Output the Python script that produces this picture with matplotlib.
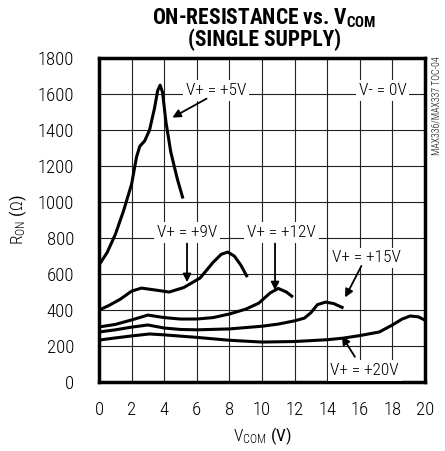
import matplotlib
matplotlib.use("Agg")
import matplotlib.pyplot as plt

# data (V_COM in volts, R_ON in ohms)
v5_x = [0, 0.5, 1.0, 1.5, 2.0, 2.3, 2.5, 2.8, 3.1, 3.4, 3.6, 3.75, 3.9, 4.1, 4.4, 4.8, 5.15]
v5_y = [650, 720, 820, 950, 1100, 1250, 1310, 1340, 1400, 1520, 1620, 1650, 1610, 1450, 1280, 1130, 1020]

v9_x = [0, 0.6, 1.3, 2.0, 2.6, 3.4, 4.3, 5.2, 6.2, 7.0, 7.5, 7.9, 8.3, 8.7, 9.1]
v9_y = [400, 425, 460, 505, 522, 512, 500, 525, 578, 665, 710, 722, 700, 650, 583]

v12_x = [0, 1.0, 2.0, 3.0, 4.0, 5.0, 6.0, 7.0, 8.0, 9.0, 9.8, 10.5, 11.0, 11.5, 11.9]
v12_y = [306, 320, 345, 372, 358, 350, 350, 358, 378, 405, 438, 495, 520, 500, 472]

v15_x = [0, 1.0, 2.0, 3.0, 4.0, 5.0, 6.0, 8.0, 10.0, 11.0, 12.0, 12.6, 13.0, 13.4, 13.9, 14.4, 15.0]
v15_y = [278, 290, 305, 317, 300, 292, 290, 295, 310, 322, 340, 355, 385, 430, 444, 436, 411]

v20_x = [0, 1.0, 2.0, 3.1, 4.0, 6.0, 8.0, 10.0, 12.0, 14.0, 15.0, 16.0, 17.2, 18.0, 18.6, 19.1, 19.6, 20.0]
v20_y = [233, 245, 256, 267, 262, 248, 232, 222, 225, 235, 244, 258, 278, 317, 350, 367, 362, 344]

x_ticks = [0, 2, 4, 6, 8, 10, 12, 14, 16, 18, 20]
y_ticks = [0, 200, 400, 600, 800, 1000, 1200, 1400, 1600, 1800]

FONT = "Roboto Condensed"
plt.rcParams["font.family"] = [FONT, "DejaVu Sans"]
plt.rcParams["font.weight"] = "light"
plt.rcParams["mathtext.fontset"] = "custom"
plt.rcParams["mathtext.rm"] = FONT + ":light"
plt.rcParams["mathtext.bf"] = FONT + ":bold"

fig = plt.figure(figsize=(4.45, 4.51), dpi=100)
ax = fig.add_axes([0.2225, 0.153, 0.7325, 0.718])

for xs, ys in [(v5_x, v5_y), (v9_x, v9_y), (v12_x, v12_y), (v15_x, v15_y), (v20_x, v20_y)]:
    ax.plot(xs, ys, color="black", lw=2.2, solid_capstyle="butt", zorder=3)

ax.set_xlim(0, 20)
ax.set_ylim(0, 1800)
ax.set_xticks(x_ticks)
ax.set_yticks(y_ticks)
ax.grid(True, color="#222222", lw=0.8)
ax.tick_params(length=0, labelsize=13.5)
ax.tick_params(axis="y", pad=18)
ax.tick_params(axis="x", pad=14)
for s in ax.spines.values():
    s.set_linewidth(2.5)

ax.set_xlabel(r"$\mathrm{V_{COM}}$ (V)", fontsize=12.5, labelpad=4)
ax.set_ylabel(r"$\mathrm{R_{ON}}$ ($\Omega$)", fontsize=12.5, labelpad=6)

fig.text(0.594, 0.96, r"ON-RESISTANCE vs. $\mathbf{V_{COM}}$", ha="center", va="center",
         fontsize=15.5, fontweight="bold")
fig.text(0.594, 0.911, "(SINGLE SUPPLY)", ha="center", va="center",
         fontsize=15.5, fontweight="bold")
fig.text(0.982, 0.875, "MAX336/MAX337 TOC-04", rotation=90, ha="center", va="top", fontsize=7)

box = dict(facecolor="white", edgecolor="none", pad=2)
arrow = dict(arrowstyle="-|>", color="black", lw=1.3, mutation_scale=12, shrinkA=0, shrinkB=0)

ax.text(7.2, 1620, "V+ = +5V", ha="center", va="center", fontsize=12.5, bbox=box, zorder=4)
ax.annotate("", xy=(4.5, 1470), xytext=(6.6, 1575), arrowprops=arrow, zorder=5)
ax.text(17.4, 1620, "V- = 0V", ha="center", va="center", fontsize=12.5, bbox=box, zorder=4)

ax.text(5.4, 830, "V+ = +9V", ha="center", va="center", fontsize=12.5, bbox=box, zorder=4)
ax.annotate("", xy=(5.4, 555), xytext=(5.4, 770), arrowprops=arrow, zorder=5)
ax.text(11.2, 830, "V+ = +12V", ha="center", va="center", fontsize=12.5, bbox=box, zorder=4)
ax.annotate("", xy=(10.8, 510), xytext=(10.8, 770), arrowprops=arrow, zorder=5)
ax.text(16.4, 690, "V+ = +15V", ha="center", va="center", fontsize=12.5, bbox=box, zorder=4)
ax.annotate("", xy=(15.1, 470), xytext=(16.1, 645), arrowprops=arrow, zorder=5)
ax.text(16.3, 65, "V+ = +20V", ha="center", va="center", fontsize=12.5, bbox=box, zorder=4)
ax.annotate("", xy=(14.9, 255), xytext=(15.7, 140), arrowprops=arrow, zorder=5)

fig.savefig("out.png", dpi=100)
